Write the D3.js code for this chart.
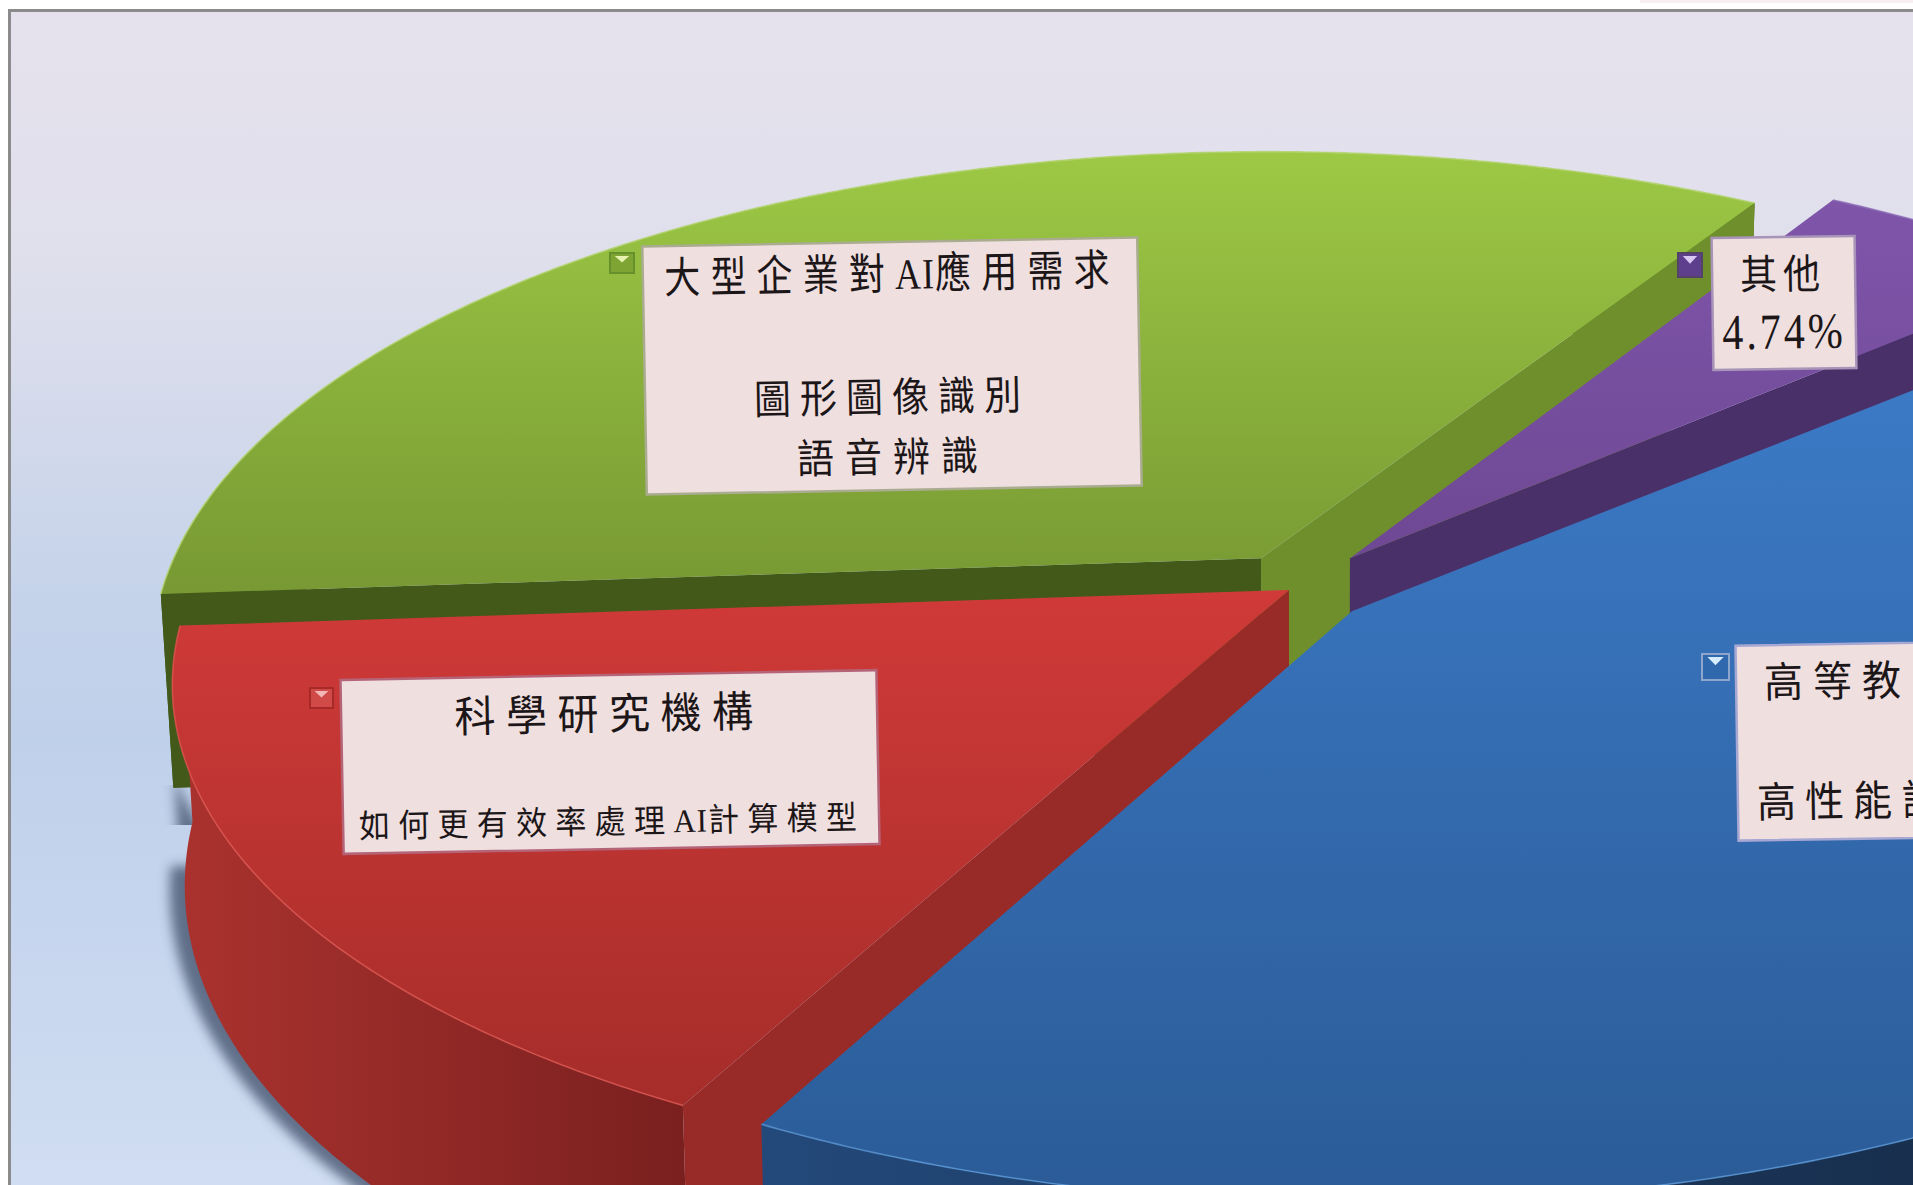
<!DOCTYPE html>
<html lang="zh-Hant">
<head>
<meta charset="utf-8">
<title>AI 晶片需求分布</title>
<script src="https://cdn.jsdelivr.net/npm/d3@7"></script>
<style>
  html, body { margin: 0; padding: 0; background: #fff; overflow: hidden; }
  svg { display: block; }
</style>
</head>
<body>
<svg id="chart" width="1913" height="1185"></svg>
<script>
// Share of demand per segment, in percent.
const categories = ["高等教", "科學研究機構", "大型企業對AI應用需求", "其他"];
const shareValues = [44.12, 16.25, 34.89, 4.74];
const detailLines = [["高性能計"], ["如何更有效率處理AI計算模型"], ["圖形圖像識別", "語音辨識"], ["4.74%"]];

// Tilted-disc camera: depth w = eye + z, with the disc centre at (originX, originY).
const width = 1913, height = 1185;
const originX = 1300, originY = 575;
const eye = 5.19, halfWidth = 1100, depthGain = 13333;
const wallDepth = 1000, wallTaper = 0.011;
const firstAngle = 48.5 * Math.PI / 180;

// How far each wedge is pulled out of the disc, and its own radii, in disc radii.
const pullX = [0.0465, -0.010, -0.0357, 0.0457];
const pullZ = [-0.072, -0.030, 0.034, 0.034];
const radiusX = [0.98, 0.991, 0.995, 1];
const radiusZ = [0.948, 0.966, 0.99, 1];

const horizonY = originY - depthGain / eye;
const screenX = d3.scaleLinear().domain([-1, 1]).range([originX - halfWidth, originX + halfWidth]);
const screenY = d3.scaleLinear().domain([0, 1]).range([horizonY, horizonY + depthGain]);

function project(x, z, lower) {
  const w = eye + z;
  let px = screenX(x * eye / w);
  let py = screenY(1 / w);
  if (lower) {
    px = originX + (px - originX) * (1 - wallTaper);
    py += wallDepth / w;
  }
  return [px, py];
}

const pieLayout = d3.pie().sort(null).startAngle(firstAngle).endAngle(firstAngle + 2 * Math.PI);
const wedges = pieLayout(shareValues);
const outline = d3.line();

const rimPoint = (i, angle, lower) =>
  project(pullX[i] + radiusX[i] * Math.sin(angle), pullZ[i] + radiusZ[i] * Math.cos(angle), lower);
const hubPoint = (i, lower) => project(pullX[i], pullZ[i], lower);

function rimPoints(i, a0, a1, lower) {
  const steps = Math.max(8, Math.ceil((a1 - a0) * 120));
  return d3.range(steps + 1).map(s => rimPoint(i, a0 + (a1 - a0) * s / steps, lower));
}

const svg = d3.select("#chart");
const defs = svg.append("defs");

function verticalGradient(id, y0, y1, stops) {
  const g = defs.append("linearGradient").attr("id", id)
    .attr("gradientUnits", "userSpaceOnUse")
    .attr("x1", 0).attr("x2", 0).attr("y1", y0).attr("y2", y1);
  stops.forEach(([o, c]) => g.append("stop").attr("offset", o).attr("stop-color", c));
}
function horizontalGradient(id, x0, x1, stops) {
  const g = defs.append("linearGradient").attr("id", id)
    .attr("gradientUnits", "userSpaceOnUse")
    .attr("x1", x0).attr("x2", x1).attr("y1", 0).attr("y2", 0);
  stops.forEach(([o, c]) => g.append("stop").attr("offset", o).attr("stop-color", c));
}

verticalGradient("backdrop", 10, 1185, [[0, "#e6e2ed"], [0.22, "#dfdfec"], [0.5, "#c5d3ea"], [0.62, "#bfd0ea"], [1, "#d0ddf2"]]);
verticalGradient("topBlue", 380, 1185, [[0, "#3c7ac6"], [1, "#2b5c98"]]);
verticalGradient("topRed", 590, 1110, [[0, "#d03a38"], [1, "#a52d2a"]]);
verticalGradient("topGreen", 150, 590, [[0, "#9dc945"], [1, "#789933"]]);
verticalGradient("topPurple", 200, 560, [[0, "#7f55aa"], [1, "#6e4894"]]);
horizontalGradient("wallRed", 180, 680, [[0, "#aa322e"], [1, "#7a201f"]]);
horizontalGradient("wallBlue", 760, 1913, [[0, "#23497a"], [1, "#182f4e"]]);

defs.append("filter").attr("id", "softShadow")
  .attr("x", "-20%").attr("y", "-20%").attr("width", "140%").attr("height", "140%")
  .append("feGaussianBlur").attr("stdDeviation", 6);

defs.append("clipPath").attr("id", "shadowPatch")
  .append("rect").attr("x", 0).attr("y", 785).attr("width", 400).attr("height", 40);
defs.append("clipPath").attr("id", "shadowBody")
  .append("rect").attr("x", 0).attr("y", 866).attr("width", 900).attr("height", 400);

// Paper, hairline corner and chart area frame.
svg.append("rect").attr("x", 1640).attr("y", 0).attr("width", 273).attr("height", 3).attr("fill", "#f8eff1");
svg.append("rect").attr("x", 9.5).attr("y", 10.5).attr("width", width).attr("height", height)
  .attr("fill", "url(#backdrop)").attr("stroke", "#8b8b8b").attr("stroke-width", 3);

const faces = [
  { top: "url(#topBlue)", wall: "url(#wallBlue)", rim: "#5a97d6" },
  { top: "url(#topRed)", wall: "url(#wallRed)", rim: "#dc5550", startFace: "#982b27" },
  { top: "url(#topGreen)", wall: "#42591a", rim: "#b9d878", startFace: "#42591a", endFace: "#6f8f2c" },
  { top: "url(#topPurple)", wall: "#4a3068", rim: "#9273bb", endFace: "#4a3068" }
];

function wedgeWall(i, a0, a1) {
  return outline(rimPoints(i, a0, a1, false).concat(rimPoints(i, a0, a1, true).reverse())) + "Z";
}
function cutFace(i, angle) {
  return outline([hubPoint(i, false), rimPoint(i, angle, false), rimPoint(i, angle, true), hubPoint(i, true)]) + "Z";
}
function topFace(i, a0, a1) {
  return outline([hubPoint(i, false)].concat(rimPoints(i, a0, a1, false))) + "Z";
}

// Soft shadow thrown to the left of the red wedge's wall: a short patch high up,
// then the main body, whose upper end fades out because it is cut before the blur.
const shadowPath = wedgeWall(1, wedges[1].startAngle, wedges[1].endAngle);
svg.append("g").attr("clip-path", "url(#shadowPatch)")
  .append("path").attr("d", shadowPath)
  .attr("transform", "translate(-15,4)")
  .attr("fill", "#3e4c66").attr("opacity", 0.75).attr("filter", "url(#softShadow)");
svg.append("g").attr("filter", "url(#softShadow)").attr("opacity", 0.75)
  .append("g").attr("clip-path", "url(#shadowBody)")
  .append("path").attr("d", shadowPath)
  .attr("transform", "translate(-15,4)")
  .attr("fill", "#3e4c66");

// Back to front: green, purple, red, blue.
[2, 3, 1, 0].forEach(i => {
  const w = wedges[i], f = faces[i];
  const g = svg.append("g").attr("class", "wedge").datum(w);
  g.append("path").attr("d", wedgeWall(i, w.startAngle, w.endAngle)).attr("fill", f.wall);
  if (f.startFace) g.append("path").attr("d", cutFace(i, w.startAngle)).attr("fill", f.startFace);
  if (f.endFace) g.append("path").attr("d", cutFace(i, w.endAngle)).attr("fill", f.endFace);
  g.append("path").attr("d", topFace(i, w.startAngle, w.endAngle)).attr("fill", f.top);
  g.append("path").attr("d", outline(rimPoints(i, w.startAngle, w.endAngle, false)))
    .attr("fill", "none").attr("stroke", f.rim).attr("stroke-width", 1.6).attr("opacity", 0.8);
});

// Data labels: pink note cards with a key swatch at their upper left.
const cardFill = "#efdfdf";
const swatches = [
  { x: 1702, y: 654, w: 27, h: 26, edge: "#8fa6cc", fill: "#2f68ad", mark: "#d6ecff" },
  { x: 310, y: 688, w: 23, h: 20, edge: "#a82a28", fill: "#d04a48", mark: "#f3b7b5" },
  { x: 610, y: 253, w: 24, h: 20, edge: "#66902b", fill: "#7ea534", mark: "#e6f2b0" },
  { x: 1678, y: 253, w: 24, h: 24, edge: "#544367", fill: "#5e3f8e", mark: "#d9c6f2" }
];
const cards = [
  { cx: 1937, cy: 740, w: 400, h: 195, rotate: -0.9, stroke: "#a7a7d4" },
  { cx: 610, cy: 762, w: 536, h: 174, rotate: -1.05, stroke: "#b56478" },
  { cx: 892, cy: 366, w: 495, h: 248, rotate: -1.05, stroke: "#aaac90" },
  { cx: 1784, cy: 303, w: 143, h: 132, rotate: -0.8, stroke: "#a794b8" }
];
const lineStyles = [
  [
    { text: categories[0], x: 1764, y: 683, size: 39, spacing: 10, stretch: 1.08, anchor: "start" },
    { text: detailLines[0][0], x: 1757, y: 803, size: 39, spacing: 9, stretch: 1.08, anchor: "start" }
  ],
  [
    { text: categories[1], x: 609, y: 715, size: 41, spacing: 10.5, stretch: 1.05, anchor: "middle" },
    { text: detailLines[1][0], x: 612, y: 822, size: 31, spacing: 8.3, stretch: 1.06, anchor: "middle" }
  ],
  [
    { text: categories[2], x: 892, y: 275, size: 36, spacing: 10.2, stretch: 1.2, anchor: "middle" },
    { text: detailLines[2][0], x: 892, y: 397, size: 37, spacing: 9, stretch: 1.1, anchor: "middle" },
    { text: detailLines[2][1], x: 893, y: 457, size: 37, spacing: 11, stretch: 1.1, anchor: "middle" }
  ],
  [
    { text: categories[3], x: 1783, y: 274, size: 37, spacing: 6, stretch: 1.1, anchor: "middle" },
    { text: detailLines[3][0], x: 1784, y: 331, size: 42, spacing: 3, stretch: 1.2, anchor: "middle" }
  ]
];

cards.forEach((c, i) => {
  const s = swatches[i];
  const sw = svg.append("g").attr("class", "swatch");
  sw.append("rect").attr("x", s.x).attr("y", s.y).attr("width", s.w).attr("height", s.h)
    .attr("fill", s.fill).attr("stroke", s.edge).attr("stroke-width", 2);
  const mx = s.x + s.w / 2, my = s.y + 3;
  sw.append("path").attr("d", outline([[mx - s.w * 0.3, my], [mx + s.w * 0.3, my], [mx, my + s.h * 0.32]]) + "Z")
    .attr("fill", s.mark);

  const card = svg.append("g").attr("class", "card");
  card.append("rect")
    .attr("x", c.cx - c.w / 2).attr("y", c.cy - c.h / 2).attr("width", c.w).attr("height", c.h)
    .attr("transform", `rotate(${c.rotate} ${c.cx} ${c.cy})`)
    .attr("fill", cardFill).attr("stroke", c.stroke).attr("stroke-width", 2.5);

  lineStyles[i].forEach(l => {
    const label = card.append("text")
      .attr("transform", `translate(${l.x},${l.y}) rotate(${c.rotate}) scale(1,${l.stretch})`)
      .attr("text-anchor", l.anchor)
      .attr("dominant-baseline", "central")
      .attr("font-family", "'Liberation Serif','Noto Sans CJK TC',serif")
      .attr("font-size", l.size)
      .attr("fill", "#1c1618");
    // The Latin "AI" sits tighter than the wide-set CJK glyphs around it.
    l.text.split(/(AI)/).filter(Boolean).forEach(part => {
      label.append("tspan")
        .attr("letter-spacing", part === "AI" ? 1 : l.spacing)
        .text(part);
    });
  });
});
</script>
</body>
</html>
